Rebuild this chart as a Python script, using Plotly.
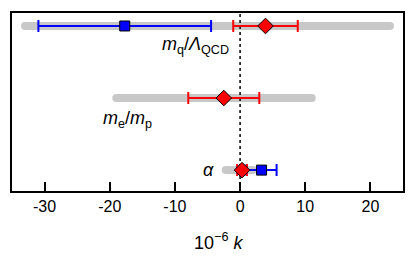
import plotly.graph_objects as go

# Data
rows = [3, 2, 1]  # m_q/Λ_QCD, m_e/m_p, α
row_labels = ["<i>m</i><sub>q</sub>/<i>Λ</i><sub>QCD</sub>",
              "<i>m</i><sub>e</sub>/<i>m</i><sub>p</sub>",
              "<i>α</i>"]
band_lo = [-33.0, -19.0, -2.2]
band_hi = [23.0, 11.0, 2.0]
red_val = [3.9, -2.5, 0.3]
red_err = [4.95, 5.45, 0.75]
blue_rows = [3, 1]
blue_val = [-17.7, 3.3]
blue_err = [13.25, 2.3]
xticks = [-30, -20, -10, 0, 10, 20]
xticklabels = ["-30", "-20", "-10", "0", "10", "20"]

FONT = "Liberation Sans, Arial, Helvetica, sans-serif"
GRAY = "#c8c8c8"
W, H = 415, 260
ml, mr, mt, mb = 12, 10, 13, 69

fig = go.Figure()

# gray bands with round ends
bx, by = [], []
for r, lo, hi in zip(rows, band_lo, band_hi):
    bx += [lo, hi, None]
    by += [r, r, None]
fig.add_trace(go.Scatter(x=bx, y=by, mode="lines+markers",
                         line=dict(color=GRAY, width=8),
                         marker=dict(color=GRAY, size=8, symbol="circle"),
                         hoverinfo="skip", showlegend=False))

# dotted zero line
fig.add_trace(go.Scatter(x=[0, 0], y=[0.71, 3.18], mode="lines",
                         line=dict(color="black", width=1.5, dash="dot"),
                         hoverinfo="skip", showlegend=False))

# blue
fig.add_trace(go.Scatter(x=blue_val, y=blue_rows, mode="markers",
                         marker=dict(symbol="square", size=10, color="#0000ff",
                                     line=dict(color="black", width=1)),
                         error_x=dict(type="data", array=blue_err, color="#0000ff",
                                      thickness=2, width=6),
                         showlegend=False))
# red
fig.add_trace(go.Scatter(x=red_val, y=rows, mode="markers",
                         marker=dict(symbol="diamond", size=12, color="#ff0000",
                                     line=dict(color="black", width=1)),
                         error_x=dict(type="data", array=red_err, color="#ff0000",
                                      thickness=2, width=6),
                         showlegend=False))

def px2paper(px, py):
    return (px - ml) / (W - ml - mr), 1 - (py - mt) / (H - mt - mb)

label_pos = [(232, 45), (155, 119), (217, 170)]
for (px, py), txt in zip(label_pos, row_labels):
    x, y = px2paper(px, py)
    fig.add_annotation(x=x, y=y, xref="paper", yref="paper",
                       text=txt, showarrow=False, xanchor="right", yanchor="middle",
                       font=dict(family=FONT, size=18, color="black"))

x, y = px2paper(220, 241)
fig.add_annotation(x=x, y=y, xref="paper", yref="paper",
                   text="10<sup>−6</sup> <i>k</i>", showarrow=False,
                   xanchor="center", yanchor="middle",
                   font=dict(family=FONT, size=18, color="black"))

fig.update_layout(
    width=W, height=H,
    margin=dict(l=ml, r=mr, t=mt, b=mb),
    paper_bgcolor="white", plot_bgcolor="white",
    font=dict(family=FONT, size=16, color="black"),
    xaxis=dict(range=[-35, 25], tickvals=xticks, ticktext=xticklabels,
               ticks="inside", ticklen=9, tickwidth=2, tickcolor="black",
               showline=True, linecolor="black", linewidth=2, mirror=True,
               showgrid=False, zeroline=False, tickfont=dict(size=16)),
    yaxis=dict(range=[0.71, 3.18], showticklabels=False, ticks="",
               showline=True, linecolor="black", linewidth=2, mirror=True,
               showgrid=False, zeroline=False),
)

fig.write_html("out.html", config={"displayModeBar": False},
               post_script="document.body.style.margin='0';document.body.style.padding='0';")
